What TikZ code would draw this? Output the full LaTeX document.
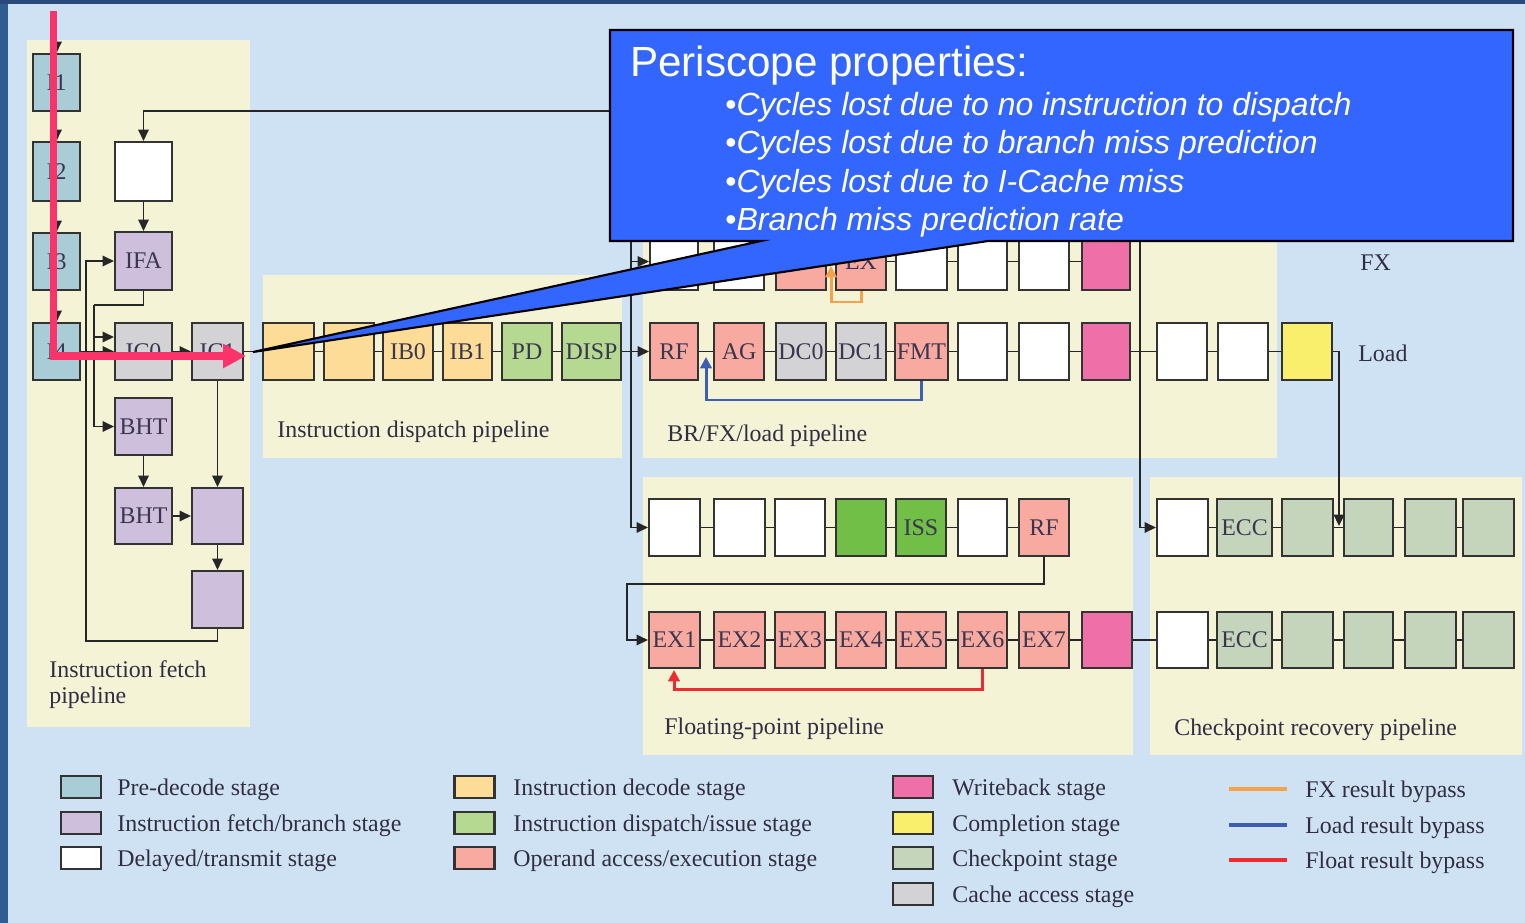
\documentclass[tikz,border=0pt]{standalone}
\usepackage{fontspec}
\setmainfont{Liberation Serif}
\newfontfamily\calfont{Liberation Sans}
\usetikzlibrary{arrows.meta}
\definecolor{bgc}{HTML}{CFE2F3}
\definecolor{edgec}{HTML}{2F5D8F}
\definecolor{topc}{HTML}{2A4878}
\definecolor{cream}{HTML}{F4F3D5}
\definecolor{cPre}{HTML}{A8CDD6}
\definecolor{cFet}{HTML}{CEBFDD}
\definecolor{cDec}{HTML}{FDDC97}
\definecolor{cDsp}{HTML}{B6D991}
\definecolor{cOpr}{HTML}{F8AAA1}
\definecolor{cWb}{HTML}{EF70A9}
\definecolor{cCmp}{HTML}{F9EF6C}
\definecolor{cCkp}{HTML}{C5D5BC}
\definecolor{cCch}{HTML}{D3D3D5}
\definecolor{cGrn}{HTML}{72BF47}
\definecolor{cBox}{HTML}{333333}
\definecolor{cLn}{HTML}{262626}
\definecolor{cLab}{HTML}{3A3650}
\definecolor{cFX}{HTML}{F6A24A}
\definecolor{cLd}{HTML}{3E5DAE}
\definecolor{cFl}{HTML}{EE2B2F}
\definecolor{cCall}{HTML}{3366FF}
\definecolor{cPeri}{HTML}{FA336A}
\newcommand\labfont{\fontsize{13.6}{15}\selectfont}
\newcommand\mkbox[7]{\node[bx,fill=#2,minimum width={(#5-#3)*0.02cm},minimum height={(#6-#4)*0.02cm}] (#1) at ({(#3+#5)/2},{(#4+#6)/2}) {#7};}
\newcommand\lgitem[6]{\node[swatch,fill=#2] (#1) at (#3,#4) {}; \node[ptext] (#1t) at (#5,#4+8) {#6};}
\begin{document}
\begin{tikzpicture}[x=0.02cm,y=-0.02cm,
  bx/.style={draw=cBox, line width=1.2pt, inner sep=0pt, font=\labfont, text=cLab},
  ln/.style={draw=cLn, line width=1.05pt},
  ar/.style={ln, -{Triangle[length=6.5pt,width=6pt]}},
  panel/.style={fill=cream, draw=none},
  ptext/.style={font=\labfont, text=cLab!85!black, anchor=base west, inner sep=0pt},
  swatch/.style={draw=cBox, line width=1.2pt, minimum width=40*0.02cm, minimum height=22*0.02cm, inner sep=0pt},
  byp/.style={line width=1.7pt, line join=miter, -{Triangle[length=6.5pt,width=6.5pt]}},
  calt/.style={font=\calfont\fontsize{24}{28}\selectfont, text=white, anchor=base west, inner sep=0pt},
  calb/.style={font=\calfont\fontsize{18.2}{22}\selectfont, text=white, anchor=base west, inner sep=0pt},
  periscope/.style={draw=cPeri, line width=4pt, line join=miter, -{Triangle[length=13pt,width=13pt]}}
]
\useasboundingbox (0,0) rectangle (1525,923);
% background
\fill[bgc] (0,0) rectangle (1525,923);
\fill[edgec] (0,0) rectangle (8,923);
\fill[topc] (0,0) rectangle (1525,4);
% panels
\fill[panel] (27,40) rectangle (250,727);
\fill[panel] (263,275) rectangle (622,458);
\fill[panel] (643,228) rectangle (1277,458);
\fill[panel] (643,477) rectangle (1133,755);
\fill[panel] (1150,477) rectangle (1522,755);

% fetch pipeline
\mkbox{I1}{cPre}{33}{54}{80}{111}{I1}
\mkbox{I2}{cPre}{33}{142}{80}{201}{I2}
\mkbox{I3}{cPre}{33}{233}{80}{290}{I3}
\mkbox{I4}{cPre}{33}{323}{80}{380}{I4}
\mkbox{FW}{white}{115}{142}{172}{201}{}
\mkbox{IFA}{cFet}{115}{232}{172}{290}{IFA}
\mkbox{IC0}{cCch}{115}{323}{172}{380}{IC0}
\mkbox{IC1}{cCch}{192}{323}{243}{380}{IC1}
\mkbox{BHTa}{cFet}{115}{398}{172}{455}{BHT}
\mkbox{BHTb}{cFet}{115}{488}{172}{544}{BHT}
\mkbox{P1}{cFet}{192}{488}{243}{544}{}
\mkbox{P2}{cFet}{192}{571}{243}{628}{}

% dispatch pipeline
\mkbox{D1}{cDec}{263}{323}{314}{380}{}
\mkbox{D2}{cDec}{324}{323}{374}{380}{}
\mkbox{IB0}{cDec}{383}{323}{433}{380}{IB0}
\mkbox{IB1}{cDec}{443}{323}{492}{380}{IB1}
\mkbox{PD}{cDsp}{502}{323}{552}{380}{PD}
\mkbox{DISP}{cDsp}{562}{323}{621}{380}{DISP}

% FX row
\mkbox{FX1}{white}{650}{233}{698}{290}{}
\mkbox{FX2}{white}{714}{233}{764}{290}{}
\mkbox{FX3}{cOpr}{776}{233}{826}{290}{}
\mkbox{FX4}{cOpr}{836}{233}{886}{290}{EX}
\mkbox{FX5}{white}{896}{233}{947}{290}{}
\mkbox{FX6}{white}{958}{233}{1007}{290}{}
\mkbox{FX7}{white}{1019}{233}{1069}{290}{}
\mkbox{FX8}{cWb}{1082}{233}{1130}{290}{}

% Load row
\mkbox{LRF}{cOpr}{650}{323}{698}{380}{RF}
\mkbox{LAG}{cOpr}{714}{323}{764}{380}{AG}
\mkbox{DC0}{cCch}{776}{323}{826}{380}{DC0}
\mkbox{DC1}{cCch}{836}{323}{886}{380}{DC1}
\mkbox{FMT}{cOpr}{895}{323}{948}{380}{FMT}
\mkbox{LW1}{white}{958}{323}{1007}{380}{}
\mkbox{LW2}{white}{1019}{323}{1069}{380}{}
\mkbox{LWB}{cWb}{1082}{323}{1130}{380}{}
\mkbox{LW3}{white}{1157}{323}{1207}{380}{}
\mkbox{LW4}{white}{1218}{323}{1268}{380}{}
\mkbox{LY}{cCmp}{1282}{323}{1332}{380}{}

% FP row 1
\mkbox{FP1}{white}{649}{499}{700}{556}{}
\mkbox{FP2}{white}{714}{499}{765}{556}{}
\mkbox{FP3}{white}{775}{499}{825}{556}{}
\mkbox{FP4}{cGrn}{836}{499}{886}{556}{}
\mkbox{FP5}{cGrn}{896}{499}{946}{556}{ISS}
\mkbox{FP6}{white}{958}{499}{1007}{556}{}
\mkbox{FP7}{cOpr}{1019}{499}{1069}{556}{RF}
% FP row 2
\mkbox{EX1}{cOpr}{649}{612}{700}{668}{EX1}
\mkbox{EX2}{cOpr}{714}{612}{765}{668}{EX2}
\mkbox{EX3}{cOpr}{775}{612}{825}{668}{EX3}
\mkbox{EX4}{cOpr}{836}{612}{886}{668}{EX4}
\mkbox{EX5}{cOpr}{896}{612}{946}{668}{EX5}
\mkbox{EX6}{cOpr}{958}{612}{1007}{668}{EX6}
\mkbox{EX7}{cOpr}{1019}{612}{1069}{668}{EX7}
\mkbox{FPW}{cWb}{1082}{612}{1132}{668}{}

% checkpoint rows
\mkbox{CA1}{white}{1157}{499}{1208}{556}{}
\mkbox{CA2}{cCkp}{1217}{499}{1272}{556}{ECC}
\mkbox{CA3}{cCkp}{1282}{499}{1333}{556}{}
\mkbox{CA4}{cCkp}{1344}{499}{1393}{556}{}
\mkbox{CA5}{cCkp}{1405}{499}{1456}{556}{}
\mkbox{CA6}{cCkp}{1463}{499}{1514}{556}{}
\mkbox{CB1}{white}{1157}{612}{1208}{668}{}
\mkbox{CB2}{cCkp}{1217}{612}{1272}{668}{ECC}
\mkbox{CB3}{cCkp}{1282}{612}{1333}{668}{}
\mkbox{CB4}{cCkp}{1344}{612}{1393}{668}{}
\mkbox{CB5}{cCkp}{1405}{612}{1456}{668}{}
\mkbox{CB6}{cCkp}{1463}{612}{1514}{668}{}

% coordinates
\coordinate (cIn) at (56.5,16);
\coordinate (cTop) at (612,111);
\coordinate (cL) at (86,641);
\coordinate (cB) at (94,305);
\coordinate (cB2) at (94,337);
\coordinate (cV1) at (631,236);
\coordinate (cV2) at (1140,236);
\coordinate (cYd) at (1339,526);
\coordinate (cBl1) at (706,400);
\coordinate (cBl2) at (706,357);
\coordinate (cO1) at (831,302);
\coordinate (cO2) at (831,266);
\coordinate (cF1) at (627,584);
\coordinate (cR1) at (674,689);
\coordinate (cR2) at (674,670);
\coordinate (cP0) at (53.5,11);
\coordinate (cP1) at (246,356);

% fetch connectors
\draw[ar] (cIn) -- (I1);
\draw[ar] (I1) -- (I2);
\draw[ar] (I2) -- (I3);
\draw[ar] (I3) -- (I4);
\draw[ar] (cTop) -| (FW);
\draw[ar] (FW) -- (IFA);
\draw[ar] (P2) |- (cL) |- (IFA);
\draw[ln] (IFA) |- (cB);
\draw[ar] (cB) |- (BHTa);
\draw[ar] (cB2) -- (cB2 -| IC0.west);
\draw[ar] (I4) -- (IC0);
\draw[ar] (IC0) -- (IC1);
\draw[ln] (IC1) -- (D1);
\draw[ar] (IC1) -- (P1);
\draw[ar] (BHTa) -- (BHTb);
\draw[ar] (BHTb) -- (P1);
\draw[ar] (P1) -- (P2);

% dispatch connectors
\draw[ln] (D1) -- (D2);
\draw[ln] (D2) -- (IB0);
\draw[ln] (IB0) -- (IB1);
\draw[ln] (IB1) -- (PD);
\draw[ln] (PD) -- (DISP);
\draw[ar] (DISP) -- (LRF);
\draw[ar] (cV1) |- (FP1);
\draw[ar] (cV1 |- FX1) -- (FX1);

% FX row
\draw[ln] (FX1) -- (FX2);
\draw[ln] (FX2) -- (FX3);
\draw[ln] (FX3) -- (FX4);
\draw[ln] (FX4) -- (FX5);
\draw[ln] (FX5) -- (FX6);
\draw[ln] (FX6) -- (FX7);
\draw[ln] (FX7) -- (FX8);
\draw[byp, draw=cFX] (FX4) |- (cO1) -- (cO2);

% Load row
\draw[ln] (LRF) -- (LAG);
\draw[ln] (LAG) -- (DC0);
\draw[ln] (DC0) -- (DC1);
\draw[ln] (DC1) -- (FMT);
\draw[ln] (FMT) -- (LW1);
\draw[ln] (LW1) -- (LW2);
\draw[ln] (LW2) -- (LWB);
\draw[ln] (LWB) -- (LW3);
\draw[ln] (LW3) -- (LW4);
\draw[ln] (LW4) -- (LY);
\draw[ar] (LY) -| (cYd);
\draw[ar] (cV2) |- (CA1);
\draw[byp, draw=cLd] (FMT) |- (cBl1) -- (cBl2);

% FP rows
\draw[ln] (FP1) -- (FP2);
\draw[ln] (FP2) -- (FP3);
\draw[ln] (FP3) -- (FP4);
\draw[ln] (FP4) -- (FP5);
\draw[ln] (FP5) -- (FP6);
\draw[ln] (FP6) -- (FP7);
\draw[ar] (FP7) |- (cF1) |- (EX1);
\draw[ln] (EX1) -- (EX2);
\draw[ln] (EX2) -- (EX3);
\draw[ln] (EX3) -- (EX4);
\draw[ln] (EX4) -- (EX5);
\draw[ln] (EX5) -- (EX6);
\draw[ln] (EX6) -- (EX7);
\draw[ln] (EX7) -- (FPW);
\draw[ln] (FPW) -- (CB1);
\draw[byp, draw=cFl] (EX6) |- (cR1) -- (cR2);

% checkpoint rows
\draw[ln] (CA1) -- (CA2);
\draw[ln] (CA2) -- (CA3);
\draw[ln] (CA3) -- (CA4);
\draw[ln] (CA4) -- (CA5);
\draw[ln] (CA5) -- (CA6);
\draw[ln] (CB1) -- (CB2);
\draw[ln] (CB2) -- (CB3);
\draw[ln] (CB3) -- (CB4);
\draw[ln] (CB4) -- (CB5);
\draw[ln] (CB5) -- (CB6);

% pipeline labels
\node[ptext] (lbfa) at (49,677) {Instruction fetch};
\node[ptext] (lbfb) at (49,703) {pipeline};
\node[ptext] (lbd) at (277,437) {Instruction dispatch pipeline};
\node[ptext] (lbb) at (667,441) {BR/FX/load pipeline};
\node[ptext] (lbf) at (664,734) {Floating-point pipeline};
\node[ptext] (lbc) at (1174,735) {Checkpoint recovery pipeline};
\node[ptext] (lbx) at (1360,270) {FX};
\node[ptext] (lbl) at (1358,361) {Load};

% legend
\lgitem{lg1}{cPre}{81}{787}{117}{Pre-decode stage}
\lgitem{lg2}{cFet}{81}{823}{117}{Instruction fetch/branch stage}
\lgitem{lg3}{white}{81}{858}{117}{Delayed/transmit stage}
\lgitem{lg4}{cDec}{474.5}{787}{513}{Instruction decode stage}
\lgitem{lg5}{cDsp}{474.5}{823}{513}{Instruction dispatch/issue stage}
\lgitem{lg6}{cOpr}{474.5}{858}{513}{Operand access/execution stage}
\lgitem{lg7}{cWb}{913}{787}{952}{Writeback stage}
\lgitem{lg8}{cCmp}{913}{823}{952}{Completion stage}
\lgitem{lg9}{cCkp}{913}{858}{952}{Checkpoint stage}
\lgitem{lg10}{cCch}{913}{894}{952}{Cache access stage}
\coordinate (lA1) at (1229,789); \coordinate (lA2) at (1287,789);
\coordinate (lB1) at (1229,825); \coordinate (lB2) at (1287,825);
\coordinate (lC1) at (1229,860); \coordinate (lC2) at (1287,860);
\draw[draw=cFX, line width=2.3pt] (lA1) -- (lA2);
\draw[draw=cLd, line width=2.3pt] (lB1) -- (lB2);
\draw[draw=cFl, line width=2.3pt] (lC1) -- (lC2);
\node[ptext] (lgt11) at (1305,797) {FX result bypass};
\node[ptext] (lgt12) at (1305,833) {Load result bypass};
\node[ptext] (lgt13) at (1305,868) {Float result bypass};

% callout
\path[draw=black, line width=1.2pt, fill=cCall] (610,30) -- (1513,30) -- (1513,241) -- (988,241) -- (253,352) -- (761,241) -- (610,241) -- cycle;
\node[calt] (ctitle) at (630,76) {Periscope properties:};
\node[calb] (cb1) at (725,115) {•\textit{Cycles lost due to no instruction to dispatch}};
\node[calb] (cb2) at (725,153) {•\textit{Cycles lost due to branch miss prediction}};
\node[calb] (cb3) at (725,192) {•\textit{Cycles lost due to I-Cache miss}};
\node[calb] (cb4) at (725,230) {•\textit{Branch miss prediction rate}};

% periscope red arrow
\draw[periscope] (cP0) |- (cP1);
\end{tikzpicture}
\end{document}
